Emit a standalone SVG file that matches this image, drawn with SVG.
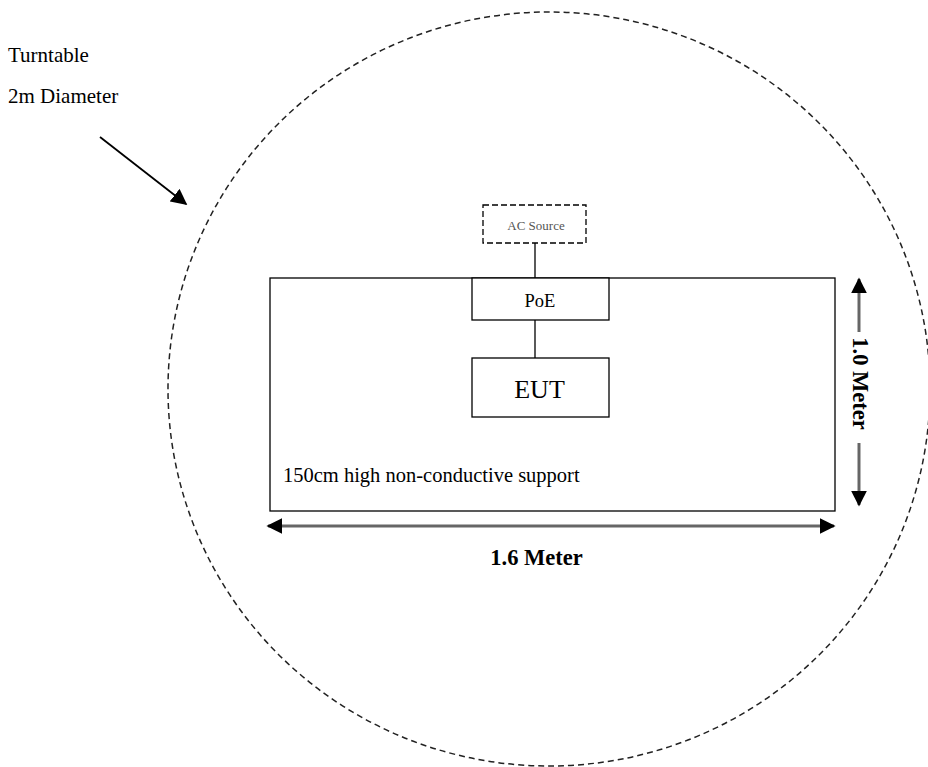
<svg xmlns="http://www.w3.org/2000/svg" width="928" height="767" viewBox="0 0 928 767">
<defs>
<marker id="ah" viewBox="0 0 10 10" refX="9" refY="5" markerWidth="16" markerHeight="16" orient="auto-start-reverse" markerUnits="userSpaceOnUse">
<path d="M0,0 L10,5 L0,10 z" fill="#000"/>
</marker>
<style>
text{font-family:"Liberation Serif","Times New Roman",serif;fill:#000}
.box{fill:#fff;stroke:#000;stroke-width:1.3}
.ln{stroke:#000;stroke-width:1.3;fill:none}
.dim{stroke:#666;stroke-width:3}
</style>
</defs>
<rect width="928" height="767" fill="#fff"/>
<ellipse id="turntable" cx="549" cy="389" rx="381" ry="377" fill="none" stroke="#222" stroke-width="1.5" stroke-dasharray="6,4"/>
<g id="support">
<rect class="box" x="270" y="278" width="565" height="233"/>
<text x="283" y="482" font-size="20.5" font-family="Liberation Serif, serif">150cm high non-conductive support</text>
</g>
<g id="connectors">
<line class="ln" x1="535" y1="243" x2="535" y2="278"/>
<line class="ln" x1="535" y1="320" x2="535" y2="358"/>
<line x1="100" y1="137" x2="186" y2="204" stroke="#000" stroke-width="1.8" marker-end="url(#ah)"/>
<line class="dim" x1="268" y1="526" x2="834" y2="526" marker-start="url(#ah)" marker-end="url(#ah)"/>
<line class="dim" x1="859" y1="332" x2="859" y2="279" marker-end="url(#ah)"/>
<line class="dim" x1="859" y1="443" x2="859" y2="505" marker-end="url(#ah)"/>
</g>
<g id="ac-source">
<rect x="483" y="205" width="103" height="38" fill="#fff" stroke="#000" stroke-width="1.3" stroke-dasharray="6,3"/>
<text x="536" y="229.5" font-size="13" text-anchor="middle" style="fill:#555">AC Source</text>
</g>
<g id="poe">
<rect class="box" x="472" y="278" width="137" height="42"/>
<text x="540" y="307" font-size="18.5" text-anchor="middle">PoE</text>
</g>
<g id="eut">
<rect class="box" x="472" y="358" width="137" height="59"/>
<text x="539.5" y="398" font-size="26" text-anchor="middle">EUT</text>
</g>
<g id="labels">
<text x="8" y="62" font-size="21">Turntable</text>
<text x="8" y="103" font-size="21">2m Diameter</text>
<text x="536.5" y="565" font-size="22.5" font-weight="bold" text-anchor="middle">1.6 Meter</text>
<text transform="translate(852.5,383.5) rotate(90)" font-size="22.5" font-weight="bold" text-anchor="middle">1.0 Meter</text>
</g>
</svg>
